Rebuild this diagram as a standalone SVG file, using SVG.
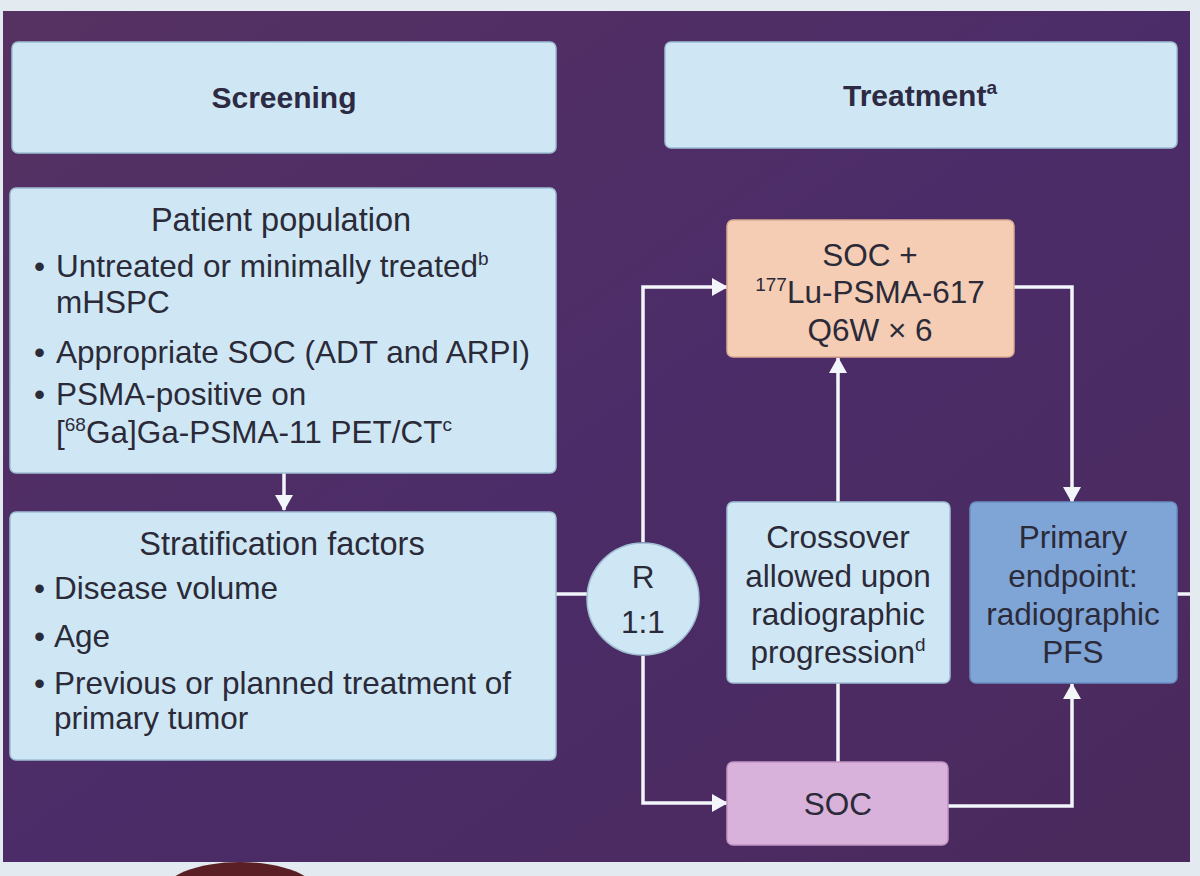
<svg xmlns="http://www.w3.org/2000/svg" width="1200" height="876" viewBox="0 0 1200 876">
<defs>
<linearGradient id="bg" x1="0" y1="0" x2="1" y2="1">
<stop offset="0" stop-color="#563262"/>
<stop offset="0.5" stop-color="#4c2c68"/>
<stop offset="1" stop-color="#4a2a5c"/>
</linearGradient>
<marker id="ah" markerUnits="userSpaceOnUse" markerWidth="16" markerHeight="18" refX="15" refY="9" orient="auto">
<path d="M0,0 L16,9 L0,18 z" fill="#f2f6fa"/>
</marker>
<style>
text{font-family:"Liberation Sans",Arial,sans-serif;fill:#2b2a38;font-size:31.5px}
.c{text-anchor:middle}
.b{font-weight:bold;font-size:30px;fill:#2d2a44}
.t{font-size:32.5px}
.sup{font-size:19px}
.lb{fill:#cfe7f4;stroke:#9fbfd3;stroke-width:1.5}
.conn{fill:none;stroke:#f2f6fa;stroke-width:3.5}
</style>
</defs>
<rect x="0" y="0" width="1200" height="876" fill="#e3ebf0"/>
<rect x="3" y="11" width="1187" height="851" fill="url(#bg)"/>
<ellipse cx="240" cy="894" rx="78" ry="32" fill="#5a1f24"/>

<g id="connectors">
<line class="conn" x1="284" y1="473" x2="284" y2="510" marker-end="url(#ah)"/>
<line class="conn" x1="556" y1="594" x2="588" y2="594"/>
<polyline class="conn" points="643,542 643,287 727,287" marker-end="url(#ah)"/>
<polyline class="conn" points="643,656 643,803 727,803" marker-end="url(#ah)"/>
<line class="conn" x1="838" y1="502" x2="838" y2="358" marker-end="url(#ah)"/>
<polyline class="conn" points="1014,287 1072,287 1072,502" marker-end="url(#ah)"/>
<line class="conn" x1="838" y1="683" x2="838" y2="762"/>
<polyline class="conn" points="948,806 1072,806 1072,684" marker-end="url(#ah)"/>
<line class="conn" x1="1177" y1="594" x2="1190" y2="594"/>
</g>

<g id="screening">
<rect class="lb" x="12" y="42" width="544" height="111" rx="6"/>
<text class="c b" x="284" y="108">Screening</text>
</g>

<g id="treatment">
<rect class="lb" x="665" y="42" width="512" height="106" rx="6"/>
<text class="c b" x="920" y="106">Treatment<tspan class="sup" dy="-12">a</tspan></text>
</g>

<g id="patient-population">
<rect class="lb" x="10" y="188" width="546" height="285" rx="6"/>
<text class="c t" x="281" y="231">Patient population</text>
<text x="34" y="277">•</text>
<text x="56" y="277">Untreated or minimally treated<tspan class="sup" dy="-12">b</tspan></text>
<text x="56" y="313">mHSPC</text>
<text x="34" y="363">•</text>
<text x="56" y="363">Appropriate SOC (ADT and ARPI)</text>
<text x="34" y="405">•</text>
<text x="56" y="405">PSMA-positive on</text>
<text x="56" y="443">[<tspan class="sup" dy="-12">68</tspan><tspan dy="12">Ga]Ga-PSMA-11 PET/CT</tspan><tspan class="sup" dy="-12">c</tspan></text>
</g>

<g id="stratification">
<rect class="lb" x="10" y="512" width="546" height="248" rx="6"/>
<text class="c t" x="282" y="555">Stratification factors</text>
<text x="34" y="599">•</text>
<text x="54" y="599">Disease volume</text>
<text x="34" y="647">•</text>
<text x="54" y="647">Age</text>
<text x="34" y="694">•</text>
<text x="54" y="694">Previous or planned treatment of</text>
<text x="54" y="729">primary tumor</text>
</g>

<g id="randomization">
<circle cx="643" cy="599" r="56" fill="#cfe7f4" stroke="#9fbfd3" stroke-width="1.5"/>
<text class="c" x="643" y="588">R</text>
<text class="c" x="643" y="633">1:1</text>
</g>

<g id="soc-lu">
<rect x="727" y="220" width="287" height="137" rx="6" fill="#f4cdb4" stroke="#d9ab93" stroke-width="1.5"/>
<text class="c" x="870" y="266">SOC +</text>
<text class="c" x="870" y="303"><tspan class="sup" dy="-12">177</tspan><tspan dy="12">Lu-PSMA-617</tspan></text>
<text class="c" x="870" y="341">Q6W × 6</text>
</g>

<g id="crossover">
<rect class="lb" x="727" y="502" width="223" height="181" rx="6"/>
<text class="c" x="838" y="548">Crossover</text>
<text class="c" x="838" y="587">allowed upon</text>
<text class="c" x="838" y="625">radiographic</text>
<text class="c" x="838" y="663">progression<tspan class="sup" dy="-12">d</tspan></text>
</g>

<g id="primary-endpoint">
<rect x="970" y="502" width="207" height="181" rx="6" fill="#7fa4d6" stroke="#6a8ec2" stroke-width="1.5"/>
<text class="c" x="1073" y="548">Primary</text>
<text class="c" x="1073" y="587">endpoint:</text>
<text class="c" x="1073" y="625">radiographic</text>
<text class="c" x="1073" y="663">PFS</text>
</g>

<g id="soc">
<rect x="727" y="762" width="221" height="83" rx="6" fill="#d9b2db" stroke="#c195c4" stroke-width="1.5"/>
<text class="c" x="838" y="815">SOC</text>
</g>
</svg>
